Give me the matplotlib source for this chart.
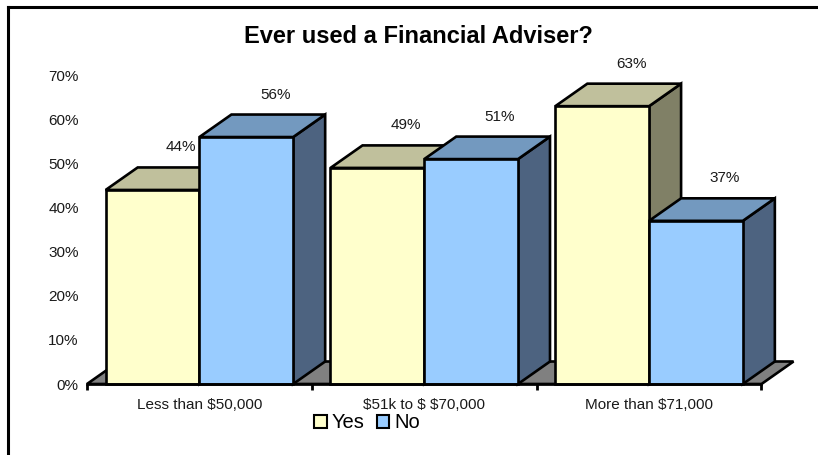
import matplotlib
matplotlib.use("Agg")
import matplotlib.pyplot as plt
from matplotlib.patches import Polygon, Rectangle, Patch
from matplotlib.lines import Line2D

plt.rcParams['font.family'] = ['Liberation Sans', 'DejaVu Sans']

# ---- data ----
title = "Ever used a Financial Adviser?"
categories = ["Less than $50,000", "$51k to $ $70,000", "More than $71,000"]
series_names = ["Yes", "No"]
yes_values = [44, 49, 63]
no_values = [56, 51, 37]
y_ticks = [0, 10, 20, 30, 40, 50, 60, 70]

# ---- style ----
W, H, DPI = 818, 455, 100
colors = {
    "Yes": {"front": "#FFFFCC", "top": "#C0C09C", "side": "#808066"},
    "No": {"front": "#99CCFF", "top": "#7399BF", "side": "#4D6380"},
}
floor_color = "#808080"
edge_lw = 1.9
bar_w = 0.417            # width of one bar in category units
depth_px = (32, 22.5)    # 3-D depth offset in pixels (right, up)

fig = plt.figure(figsize=(W / DPI, H / DPI), dpi=DPI)
fig.patch.set_facecolor("white")

# plot area: x from -0.5..2.5 spans px 87..761, y 0..70 spans px 384..75.3
left_px, right_px, bottom_px, top_px = 87, 761.5, 384, 384 - 0.70 * 441
ax = fig.add_axes([left_px / W, (H - bottom_px) / H,
                   (right_px - left_px) / W, (bottom_px - top_px) / H])
ax.set_xlim(-0.5, 2.5)
ax.set_ylim(0, 70)
for s in ax.spines.values():
    s.set_visible(False)
ax.set_facecolor("none")

px_per_x = (right_px - left_px) / 3.0
px_per_y = (bottom_px - top_px) / 70.0
DX = depth_px[0] / px_per_x
DY = depth_px[1] / px_per_y

# floor
floor = Polygon([(-0.5, 0), (2.5, 0), (2.5 + DX, DY), (-0.5 + DX, DY)],
                closed=True, facecolor=floor_color, edgecolor="black",
                linewidth=edge_lw, clip_on=False, zorder=1, joinstyle="miter")
ax.add_patch(floor)

z = 2
label_offset = 20 / px_per_y
for i, cat in enumerate(categories):
    for j, (name, vals) in enumerate(zip(series_names, [yes_values, no_values])):
        v = vals[i]
        x0 = i - bar_w + j * bar_w
        x1 = x0 + bar_w
        c = colors[name]
        side = Polygon([(x1, 0), (x1 + DX, DY), (x1 + DX, v + DY), (x1, v)],
                       closed=True, facecolor=c["side"], edgecolor="black",
                       linewidth=edge_lw, clip_on=False, zorder=z, joinstyle="miter")
        top = Polygon([(x0, v), (x1, v), (x1 + DX, v + DY), (x0 + DX, v + DY)],
                      closed=True, facecolor=c["top"], edgecolor="black",
                      linewidth=edge_lw, clip_on=False, zorder=z, joinstyle="miter")
        front = Rectangle((x0, 0), bar_w, v, facecolor=c["front"], edgecolor="black",
                          linewidth=edge_lw, clip_on=False, zorder=z + 0.5,
                          joinstyle="miter")
        ax.add_patch(side)
        ax.add_patch(top)
        ax.add_patch(front)
        z += 1
        ax.text((x0 + x1) / 2 + DX * 0.9, v + DY + label_offset, f"{v}%",
                ha="center", va="center", fontsize=11, color="#1a1a1a",
                zorder=50, clip_on=False)

# front baseline
ax.plot([-0.5, 2.5], [0, 0], color="black", lw=edge_lw, zorder=40,
        clip_on=False, solid_capstyle="projecting")

# axes ticks
ax.set_yticks(y_ticks)
ax.set_yticklabels([f"{t}%" for t in y_ticks], fontsize=11, color="#1a1a1a")
ax.tick_params(axis="y", length=0, pad=6)
ax.set_xticks(range(len(categories)))
ax.set_xticklabels(categories, fontsize=11, color="#1a1a1a")
ax.set_xticks([-0.5, 0.5, 1.5, 2.5], minor=True)
ax.tick_params(axis="x", which="major", length=0, pad=10)
ax.tick_params(axis="x", which="minor", length=4.5, width=2, color="black")

# title
fig.text(418.5 / W, 1 - 43.3 / H, title, ha="center", va="baseline",
         fontsize=17, fontweight="bold", color="black")

# legend
handles = [Patch(facecolor=colors[n]["front"], edgecolor="black", linewidth=1.5)
           for n in series_names]
fig.legend(handles, series_names, loc="center", bbox_to_anchor=(367 / W, 1 - 423 / H),
           ncol=2, frameon=False, fontsize=14.5, handlelength=0.62, handleheight=0.62,
           handletextpad=0.25, columnspacing=0.6, borderpad=0, borderaxespad=0)

# outer frame (top and left edges)
fig.add_artist(Line2D([8 / W, 1.0], [1 - 6.5 / H, 1 - 6.5 / H],
                      color="black", lw=2.2, transform=fig.transFigure))
fig.add_artist(Line2D([8 / W, 8 / W], [1 - 6.5 / H, 1 - 453 / H],
                      color="black", lw=2.2, transform=fig.transFigure))

fig.savefig("out.png", dpi=DPI)
